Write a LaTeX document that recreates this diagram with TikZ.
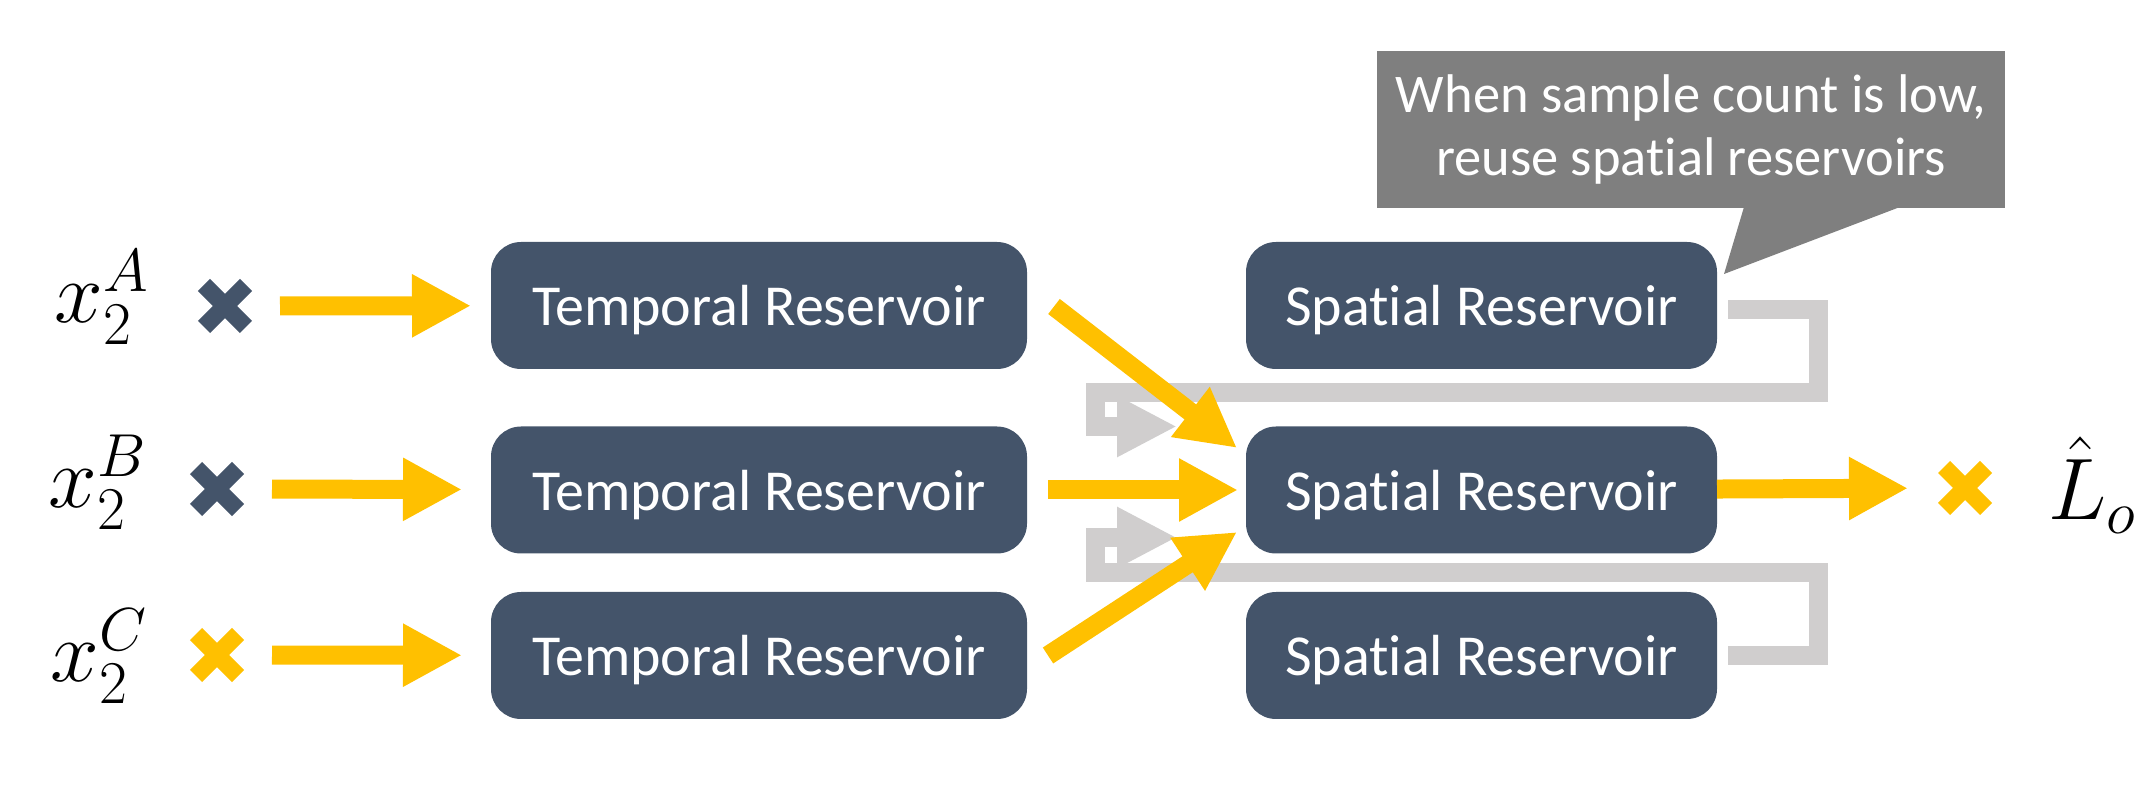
\documentclass[tikz,border=0pt]{standalone}
\usepackage[no-math]{fontspec}
\setmainfont{Carlito}[Ligatures=NoCommon]
\usetikzlibrary{arrows.meta,calc,shapes.misc}
\definecolor{slate}{HTML}{44546A}
\definecolor{gold}{HTML}{FFC000}
\definecolor{loopgray}{HTML}{D0CECE}
\definecolor{notegray}{HTML}{7F7F7F}

\begin{document}
\begin{tikzpicture}[
        x=0.1mm, y=-0.1mm,
        res/.style={fill=slate, text=white, rounded corners=3mm, minimum height=12.7mm,
            inner sep=0pt, outer sep=0pt, text depth=0pt, font=\fontsize{16.5}{18}\selectfont},
        temporal/.style={res, minimum width=53.6mm},
        spatial/.style={res, minimum width=47.1mm},
        xmark/.style={cross out, draw, line width=1.7mm, minimum size=4.2mm, inner sep=0pt, outer sep=0pt},
        lab/.style={anchor=base west, inner sep=0pt, font=\fontsize{26}{28}\selectfont},
        ar/.style={gold, line width=1.9mm, -{Triangle[length=5.9mm, width=5.9mm]}},
        reuse/.style={loopgray, line width=1.9mm, -{Triangle[length=6mm, width=5.7mm]}},
    ]
    \useasboundingbox (0,0) rectangle (2148,811);

    \node[temporal](t1) at (759,305.5) {Temporal Reservoir};
    \node[temporal](t2) at (759,490) {Temporal Reservoir};
    \node[temporal](t3) at (759,655.5) {Temporal Reservoir};
    \node[spatial](s1) at (1481.5,305.5) {Spatial Reservoir};
    \node[spatial](s2) at (1481.5,490) {Spatial Reservoir};
    \node[spatial](s3) at (1481.5,655.5) {Spatial Reservoir};

    \node[xmark, draw=slate](ca) at (225,306) {};
    \node[xmark, draw=slate](cb) at (217,489) {};
    \node[xmark, draw=gold](cc) at (217,655) {};
    \node[xmark, draw=gold](co) at (1965,488) {};

    \node[lab](xa) at (54,323) {$x_2^A$};
    \node[lab](xb) at (48,508) {$x_2^B$};
    \node[lab](xc) at (50,682) {$x_2^C$};
    \node[lab, font=\fontsize{24}{26}\selectfont](lo) at (2048,520) {$\hat{L}_o$};

    % callout
    \node[fill=notegray, text=white, minimum width=62.8mm, minimum height=15.7mm, inner sep=0pt,
        align=center, font=\fontsize{15.5}{17.9}\selectfont](note) at (1691,129.5)
        {When sample count is low,\\reuse spatial reservoirs};
    \fill[notegray] (1744,207) -- (1900,207) -- (1724,274) -- cycle;

    % reuse loops
    \draw[reuse] ($(s1.east)+(11,4)$) -| ++(90,83) -| ++(-723,34) -- ++(82,0);
    \draw[reuse] ($(s3.east)+(11,0)$) -| ++(90,-83) -| ++(-723,-35) -- ++(82,0);

    \path[ar]
    (ca) edge[shorten <=3.4mm, shorten >=2mm] (t1)
    (cb) edge[shorten <=3.4mm, shorten >=2.9mm] (t2)
    (cc) edge[shorten <=3.4mm, shorten >=2.9mm] (t3)
    (t2) edge[shorten <=2.1mm, shorten >=0.8mm] (s2)
    (s2) edge[shorten >=3.6mm] (co)
    ;
    \draw[ar] ($(t1.east)+(27,1)$) -- ($(s2.west)+(-9,-42)$);
    \draw[ar] ($(t3.east)+(21,0)$) -- ($(s2.west)+(-9,42)$);
\end{tikzpicture}
\end{document}
